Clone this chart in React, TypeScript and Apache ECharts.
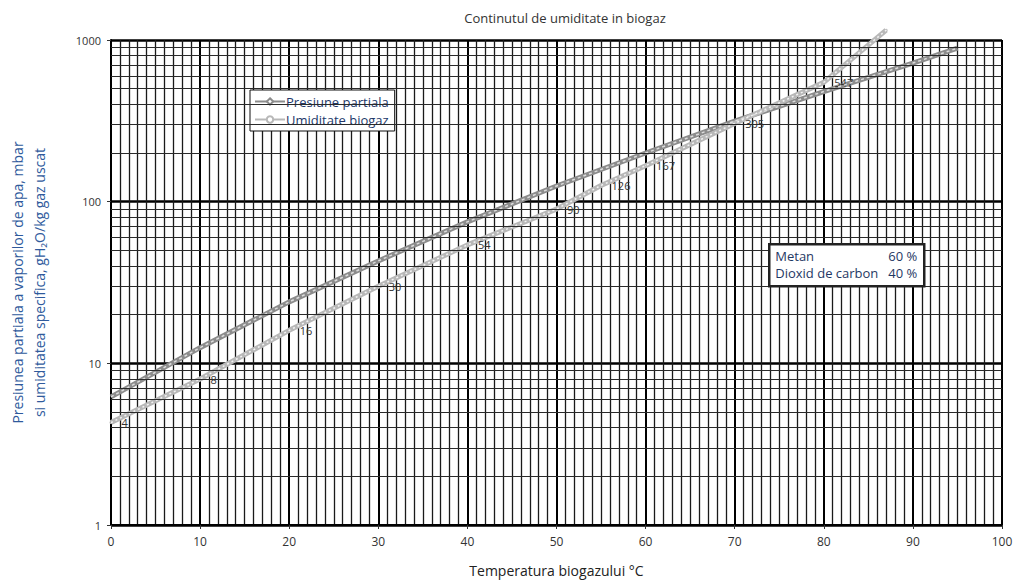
import React, { useEffect, useRef } from "react";
import * as echarts from "echarts";

const titleText = "Continutul de umiditate in biogaz";
const xName = "Temperatura biogazului °C";
const yName = "Presiunea partiala a vaporilor de apa, mbar\nsi umiditatea specifica, gH\u2082O/kg gaz uscat";

const presT = [0, 10, 20, 30, 40, 50, 60, 70, 80, 90, 95];
const presV = [6.2, 12.5, 24, 43, 75, 125, 200, 315, 480, 720, 890];

const umidT = [0, 10, 20, 30, 40, 50, 55, 60, 70, 80, 87];
const umidV = [4.3, 8, 16, 30, 54, 90, 126, 167, 305, 547, 1150];
const umidLabels = ["4", "8", "16", "30", "54", "90", "126", "167", "305", "547", ""];

const minorLogLines = [2, 3, 4, 5, 6, 7, 8, 9, 20, 30, 40, 50, 60, 70, 80, 90, 200, 300, 400, 500, 600, 700, 800, 900];
const compNames = ["Metan", "Dioxid de carbon"];
const compValues = ["60 %", "40 %"];

const FONT = "'Open Sans', 'Noto Sans', sans-serif";

export default function App() {
  const ref = useRef<HTMLDivElement>(null);
  useEffect(() => {
    if (!ref.current) return;
    const chart = echarts.init(ref.current, null, { renderer: "svg" });
    const presData = presT.map((t, i) => [t, presV[i]]);
    const umidData = umidT.map((t, i) => ({
      value: [t, umidV[i]],
      label: { show: umidLabels[i] !== "" },
    }));
    const txt = { font: `13px ${FONT}`, fill: "#1f3864" };
    chart.setOption({
      animation: false,
      backgroundColor: "#fff",
      title: {
        text: titleText,
        left: 560,
        textAlign: "center",
        top: 6,
        textStyle: { fontFamily: FONT, fontSize: 13, fontWeight: "normal", color: "#333" },
      },
      legend: {
        data: ["Presiune partiala", "Umiditate biogaz"],
        orient: "vertical",
        left: 250,
        top: 90,
        itemGap: 5,
        itemWidth: 30,
        itemHeight: 8,
        padding: [5, 6, 5, 4],
        backgroundColor: "#fff",
        borderColor: "#111",
        borderWidth: 1,
        borderRadius: 0,
        textStyle: { fontFamily: FONT, fontSize: 13, color: "#22386a", padding: [0, 0, 0, -4] },
      },
      grid: { left: 111, right: 19, top: 40, bottom: 55, outerBoundsMode: "none", containLabel: false },
      xAxis: {
        type: "value",
        min: 0,
        max: 100,
        interval: 10,
        name: xName,
        nameLocation: "middle",
        nameGap: 38,
        nameTextStyle: { fontFamily: FONT, fontSize: 14, color: "#222" },
        axisLine: { show: true, lineStyle: { color: "#000", width: 2 } },
        axisTick: { show: true, length: 4, lineStyle: { color: "#333" } },
        axisLabel: { fontFamily: FONT, fontSize: 12, color: "#333", margin: 10 },
        splitLine: { show: true, lineStyle: { color: "#000", width: 2 } },
        minorTick: { show: false, splitNumber: 10 },
        minorSplitLine: { show: true, lineStyle: { color: "#1a1a1a", width: 1.3 } },
      },
      yAxis: {
        type: "log",
        logBase: 10,
        min: 1,
        max: 1000,
        name: yName,
        nameLocation: "middle",
        nameGap: 61,
        nameTextStyle: { fontFamily: FONT, fontSize: 14, color: "#2f5a9c", lineHeight: 22 },
        axisLine: { show: true, lineStyle: { color: "#000", width: 2 } },
        axisTick: { show: true, length: 4, lineStyle: { color: "#333" } },
        axisLabel: { fontFamily: FONT, fontSize: 11, color: "#333", margin: 10, formatter: (v: number) => String(Math.round(v)) },
        splitLine: { show: true, lineStyle: { color: "#000", width: 2.5 } },
      },
      graphic: [
        {
          type: "group",
          left: 768,
          top: 243,
          z: 100,
          children: [
            { type: "rect", z: 100, shape: { x: 0, y: 0, width: 155, height: 42 }, style: { fill: "#fff", stroke: "#222", lineWidth: 2.5 } },
            { type: "text", z: 101, x: 6, y: 5, style: { ...txt, text: compNames[0] } },
            { type: "text", z: 101, x: 148, y: 5, style: { ...txt, text: compValues[0], align: "right" } },
            { type: "text", z: 101, x: 6, y: 22, style: { ...txt, text: compNames[1] } },
            { type: "text", z: 101, x: 148, y: 22, style: { ...txt, text: compValues[1], align: "right" } },
          ],
        },
      ],
      series: [
        {
          type: "line",
          name: "grid",
          data: [[0, 1], [100, 1]],
          showSymbol: false,
          silent: true,
          z: 1,
          lineStyle: { width: 0, opacity: 0 },
          markLine: {
            silent: true,
            symbol: ["none", "none"],
            label: { show: false },
            lineStyle: { color: "#2a2a2a", width: 1.2, type: "solid" },
            data: minorLogLines.map((v) => ({ yAxis: v })),
          },
        },
        {
          type: "line",
          name: "Presiune partiala",
          data: presData,
          z: 3,
          symbol: "emptyDiamond",
          symbolSize: 6,
          showSymbol: false,
          itemStyle: { color: "#8c8c8c", borderColor: "#6f6f6f" },
          lineStyle: { color: "#8c8c8c", width: 5 },
        },
        {
          type: "line",
          name: "presOverlay",
          data: presData,
          z: 4,
          silent: true,
          showSymbol: false,
          lineStyle: { color: "#dcdcdc", width: 1.5, type: [3, 3] },
        },
        {
          type: "line",
          name: "Umiditate biogaz",
          data: umidData,
          z: 3,
          clip: false,
          symbol: "emptyCircle",
          symbolSize: 1,
          showSymbol: true,
          itemStyle: { color: "#b8b8b8", borderColor: "#b8b8b8" },
          lineStyle: { color: "#b8b8b8", width: 5 },
          label: {
            show: true,
            position: "right",
            distance: 9,
            fontFamily: FONT,
            fontSize: 11,
            color: "#333",
            formatter: (p: any) => umidLabels[p.dataIndex],
          },
        },
        {
          type: "line",
          name: "umidOverlay",
          data: umidT.map((t, i) => [t, umidV[i]]),
          z: 4,
          clip: false,
          silent: true,
          showSymbol: false,
          lineStyle: { color: "#f2f2f2", width: 1.5, type: [2, 3] },
        },
      ],
    });
    return () => chart.dispose();
  }, []);
  return <div ref={ref} style={{ position: "fixed", left: 0, top: 0, width: 1021, height: 580 }} />;
}
